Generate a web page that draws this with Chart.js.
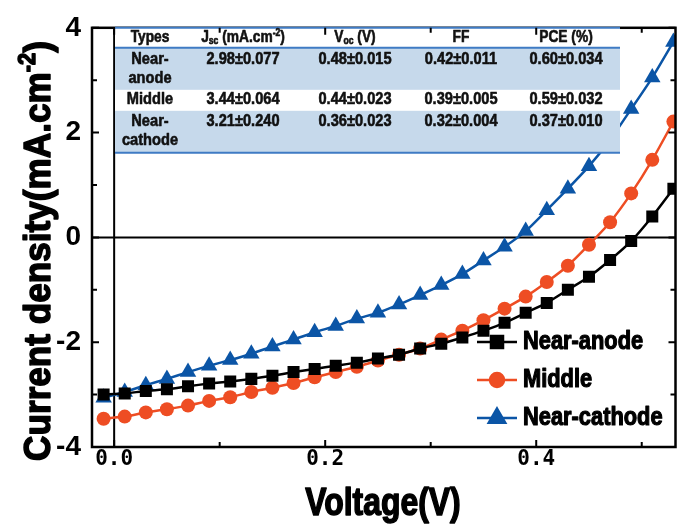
<!DOCTYPE html>
<html>
<head>
<meta charset="utf-8">
<script src="https://cdn.jsdelivr.net/npm/chart.js@4.4.1/dist/chart.umd.min.js"></script>
<style>
  html, body { margin: 0; padding: 0; background: #fff; }
  #wrap { width: 685px; height: 531px; }
</style>
</head>
<body>
<div id="wrap"><canvas id="jv" width="685" height="531"></canvas></div>
<script>
// J-V curves (V in volts, J in mA/cm2)
const voltage = [-0.01, 0.01, 0.03, 0.05, 0.07, 0.09, 0.11, 0.13, 0.15, 0.17, 0.19, 0.21, 0.23, 0.25,
                 0.27, 0.29, 0.31, 0.33, 0.35, 0.37, 0.39, 0.41, 0.43, 0.45, 0.47, 0.49, 0.51, 0.53];
const nearAnode = [-3.00, -2.98, -2.93, -2.90, -2.84, -2.79, -2.75, -2.70, -2.64, -2.57, -2.51, -2.45, -2.39, -2.31,
                   -2.24, -2.12, -2.03, -1.91, -1.78, -1.63, -1.44, -1.25, -1.00, -0.75, -0.43, -0.07, 0.40, 0.93];
const middle = [-3.46, -3.42, -3.34, -3.28, -3.21, -3.12, -3.05, -2.95, -2.87, -2.78, -2.67, -2.57, -2.47, -2.35,
                -2.24, -2.12, -1.95, -1.78, -1.58, -1.36, -1.13, -0.85, -0.54, -0.14, 0.29, 0.84, 1.48, 2.21];
const nearCathode = [-3.06, -2.95, -2.82, -2.70, -2.57, -2.45, -2.34, -2.22, -2.08, -1.95, -1.81, -1.69, -1.55, -1.44,
                     -1.28, -1.10, -0.91, -0.70, -0.44, -0.18, 0.12, 0.52, 0.93, 1.36, 1.86, 2.45, 3.05, 3.73];
const seriesNames = ['Near-anode', 'Middle', 'Near-cathode'];

const xTicks = [0, 0.2, 0.4];
const xMinor = [0.1, 0.3, 0.5];
const yTicks = [-4, -2, 0, 2, 4];
const yMinor = [-3, -1, 1, 3];

// inset table
const tableHead = [[['Types']], [['J'], ['sc', 'sub'], [' (mA.cm'], ['-2', 'sup'], [')']], [['V'], ['oc', 'sub'], [' (V)']], [['FF']], [['PCE (%)']]];
const tableTypes = [['Near-', 'anode'], ['Middle'], ['Near-', 'cathode']];
const tableJsc = ['2.98±0.077', '3.44±0.064', '3.21±0.240'];
const tableVoc = ['0.48±0.015', '0.44±0.023', '0.36±0.023'];
const tableFF = ['0.42±0.011', '0.39±0.005', '0.32±0.004'];
const tablePCE = ['0.60±0.034', '0.59±0.032', '0.37±0.010'];

const SANS = "'Liberation Sans', Arial, sans-serif";
const RED = '#EE4D23', BLUE = '#0B55A6';

const mk = arr => voltage.map((v, i) => ({ x: v, y: arr[i] }));

// draws [text, 'sub'|'sup'] parts squeezed horizontally by sx, centred on cx;
// heavy > 0 adds an outline so the narrow glyphs look as dark as the original
function richText(ctx, parts, cx, cy, size, sx, heavy = 0) {
  const fontOf = k => `bold ${k ? Math.round(size * 0.62) : size}px ${SANS}`;
  let w = 0;
  parts.forEach(([t, k]) => { ctx.font = fontOf(k); w += ctx.measureText(t).width; });
  ctx.save();
  ctx.translate(cx, cy); ctx.scale(sx, 1);
  let x = -w / 2;
  ctx.textAlign = 'left'; ctx.textBaseline = 'middle';
  ctx.strokeStyle = ctx.fillStyle; ctx.lineWidth = heavy; ctx.lineJoin = 'round';
  parts.forEach(([t, k]) => {
    ctx.font = fontOf(k);
    const dy = k === 'sub' ? size * 0.22 : k === 'sup' ? -size * 0.3 : 0;
    ctx.fillText(t, x, dy);
    if (heavy) ctx.strokeText(t, x, dy);
    x += ctx.measureText(t).width;
  });
  ctx.restore();
}

const decor = {
  id: 'decor',
  beforeDatasetsDraw(chart) {
    const { ctx, chartArea: a, scales: { x, y } } = chart;
    ctx.save();
    ctx.strokeStyle = '#000'; ctx.lineWidth = 2;
    const x0 = x.getPixelForValue(0), y0 = y.getPixelForValue(0);
    ctx.beginPath();
    ctx.moveTo(x0, a.top); ctx.lineTo(x0, a.bottom);
    ctx.moveTo(a.left, y0); ctx.lineTo(a.right, y0);
    ctx.stroke();
    ctx.restore();
  },
  afterDatasetsDraw(chart) {
    const { ctx, chartArea: a, scales: { x, y } } = chart;
    ctx.save();

    // frame
    ctx.strokeStyle = '#000'; ctx.lineWidth = 2.5;
    ctx.strokeRect(a.left, a.top, a.right - a.left, a.bottom - a.top);

    // table
    const tl = 115, tr = 620, top = a.top;
    ctx.fillStyle = '#fff';
    ctx.fillRect(tl, top, tr - tl, 125);
    ctx.fillStyle = '#C6D9EB';
    ctx.fillRect(tl, top + 20, tr - tl, 42);
    ctx.fillRect(tl, top + 83, tr - tl, 42);
    ctx.strokeStyle = '#3F7BC4'; ctx.lineWidth = 2;
    ctx.beginPath();
    [top, top + 20, top + 125].forEach(yy => { ctx.moveTo(tl, yy); ctx.lineTo(tr, yy); });
    ctx.stroke();
    const cols = [150, 243, 355, 461, 566];
    ctx.fillStyle = '#111';
    tableHead.forEach((h, i) => richText(ctx, h, cols[i], top + 10, 16, 0.86, 0.6));
    const rowY = [top + 32, top + 72, top + 94];
    tableTypes.forEach((lines, r) => lines.forEach((t, j) => richText(ctx, [[t]], cols[0], rowY[r] + j * 19, 17, 0.86, 0.6)));
    [tableJsc, tableVoc, tableFF, tablePCE].forEach((col, c) =>
      col.forEach((t, r) => richText(ctx, [[t]], cols[c + 1], rowY[r], 17, 0.86, 0.6)));

    // inward ticks on all four sides
    ctx.strokeStyle = '#000'; ctx.lineWidth = 2;
    ctx.beginPath();
    const tx = (v, len) => { const p = x.getPixelForValue(v);
      ctx.moveTo(p, a.bottom); ctx.lineTo(p, a.bottom - len); ctx.moveTo(p, a.top); ctx.lineTo(p, a.top + len); };
    const ty = (v, len) => { const p = y.getPixelForValue(v);
      ctx.moveTo(a.left, p); ctx.lineTo(a.left + len, p); ctx.moveTo(a.right, p); ctx.lineTo(a.right - len, p); };
    xTicks.forEach(v => tx(v, 7)); xMinor.forEach(v => tx(v, 5));
    yTicks.forEach(v => ty(v, 7)); yMinor.forEach(v => ty(v, 5));
    ctx.stroke();

    // legend
    chart.data.datasets.forEach((ds, i) => {
      const ly = 342 + i * 38, lx = 477;
      ctx.strokeStyle = ds.borderColor; ctx.lineWidth = 2.5;
      ctx.beginPath(); ctx.moveTo(lx, ly); ctx.lineTo(lx + 40, ly); ctx.stroke();
      Chart.helpers.drawPoint(ctx, { pointStyle: ds.pointStyle, radius: ds.pointRadius, borderWidth: 1 }, lx + 20, ly);
      ctx.fillStyle = ds.borderColor;
      ctx.fill();
      ctx.fillStyle = '#000';
      ctx.font = `bold 26px ${SANS}`;
      const w = ctx.measureText(ds.label).width * 0.84;
      richText(ctx, [[ds.label]], 523 + w / 2, ly, 26, 0.84, 1.2);
    });

    // axis titles
    ctx.fillStyle = '#000';
    richText(ctx, [['Voltage(V)']], 383, 505, 38, 0.84, 1.5);
    ctx.translate(40, 251); ctx.rotate(-Math.PI / 2);
    richText(ctx, [['Current density(mA.cm'], ['-2', 'sup'], [')']], 0, 0, 37, 0.95, 1.5);
    ctx.restore();
  }
};

new Chart(document.getElementById('jv'), {
  type: 'line',
  data: {
    datasets: [
      { label: seriesNames[0], data: mk(nearAnode), borderColor: '#000', backgroundColor: '#000', pointStyle: 'rect', pointRadius: 8.5 },
      { label: seriesNames[1], data: mk(middle), borderColor: RED, backgroundColor: RED, pointStyle: 'circle', pointRadius: 7 },
      { label: seriesNames[2], data: mk(nearCathode), borderColor: BLUE, backgroundColor: BLUE, pointStyle: 'triangle', pointRadius: 9.5 },
    ]
  },
  options: {
    responsive: false,
    animation: false,
    devicePixelRatio: 1,
    datasets: { line: { borderWidth: 2.5, pointBorderWidth: 0, tension: 0.2 } },
    layout: { padding: { top: 19, right: 7, left: 0, bottom: 0 } },
    plugins: { legend: { display: false }, tooltip: { enabled: false } },
    scales: {
      x: {
        type: 'linear', min: -0.021, max: 0.532,
        afterBuildTicks: s => { s.ticks = xTicks.map(v => ({ value: v })); },
        afterFit: s => { s.height = 84; },
        grid: { display: false, drawTicks: false }, border: { display: false },
        ticks: { color: '#000', padding: 0, maxRotation: 0, autoSkip: false,
                 font: { family: 'DejaVu Sans Mono', weight: 'bold', size: 21 }, callback: v => v.toFixed(1) }
      },
      y: {
        min: -4, max: 4,
        afterBuildTicks: s => { s.ticks = yTicks.map(v => ({ value: v })); },
        afterFit: s => { s.width = 92; },
        grid: { display: false, drawTicks: false }, border: { display: false },
        ticks: { color: '#000', padding: 11, font: { family: SANS, weight: 'bold', size: 28 } }
      }
    }
  },
  plugins: [decor]
});
</script>
</body>
</html>
